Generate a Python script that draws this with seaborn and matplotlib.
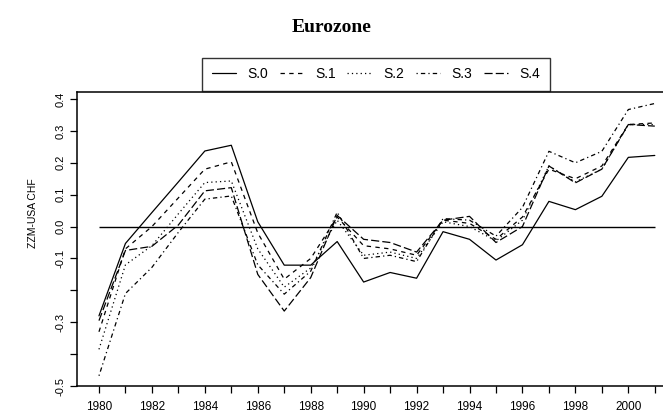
import numpy as np
import pandas as pd
import seaborn as sns
import matplotlib.pyplot as plt

years = list(range(1980, 2002))

s0 = [-0.28, -0.053, 0.044, 0.14, 0.237, 0.255, 0.015, -0.121, -0.121, -0.047, -0.174,
      -0.144, -0.162, -0.016, -0.04, -0.105, -0.057, 0.079, 0.053, 0.095, 0.217, 0.223]
s1 = [-0.33, -0.07, 0.0, 0.09, 0.18, 0.203, -0.02, -0.165, -0.10, 0.03, -0.06,
      -0.07, -0.09, 0.02, 0.01, -0.04, 0.03, 0.18, 0.15, 0.19, 0.32, 0.325]
s2 = [-0.385, -0.12, -0.06, 0.04, 0.138, 0.143, -0.07, -0.19, -0.13, 0.02, -0.09,
      -0.08, -0.10, 0.015, 0.0, -0.045, 0.02, 0.19, 0.14, 0.18, 0.32, 0.32]
s3 = [-0.468, -0.21, -0.128, -0.018, 0.086, 0.096, -0.12, -0.212, -0.14, 0.045, -0.10,
      -0.09, -0.11, 0.025, 0.02, -0.03, 0.06, 0.236, 0.20, 0.236, 0.367, 0.386]
s4 = [-0.295, -0.075, -0.062, 0.005, 0.112, 0.122, -0.15, -0.265, -0.16, 0.035, -0.04,
      -0.05, -0.08, 0.02, 0.032, -0.05, 0.0, 0.19, 0.137, 0.18, 0.32, 0.315]

names = ["S.0", "S.1", "S.2", "S.3", "S.4"]
series = [s0, s1, s2, s3, s4]

ytick_vals = [-0.5, -0.4, -0.3, -0.2, -0.1, 0.0, 0.1, 0.2, 0.3, 0.4]
ytick_text = ["-0.5", "", "-0.3", "", "-0.1", "0.0", "0.1", "0.2", "0.3", "0.4"]
xtick_text = [str(y) if y % 2 == 0 else "" for y in years]

df = pd.DataFrame({
    "year": np.tile(years, len(names)),
    "value": np.concatenate(series),
    "series": np.repeat(names, len(years)),
})

sns.set_theme(style="ticks")
plt.rcParams["font.family"] = ["Liberation Sans", "DejaVu Sans"]
plt.rcParams["text.color"] = "black"
plt.rcParams["axes.labelcolor"] = "black"

# R style line types: solid, dashed, dotted, dotdash, longdash
dash_map = {
    "S.0": "",
    "S.1": (3.5, 3.5),
    "S.2": (1, 2.5),
    "S.3": (1, 2.5, 3.5, 2.5),
    "S.4": (6.5, 2.5),
}

fig = plt.figure(figsize=(6.63, 4.16), dpi=100)
ax = fig.add_axes([77 / 663, 30 / 416, 1 - 77 / 663, 294 / 416])

sns.lineplot(data=df, x="year", y="value", style="series", dashes=dash_map,
             color="black", linewidth=0.9, ax=ax, legend=False)

ax.hlines(0, years[0], years[-1], color="black", linewidth=1.0)

ax.set_xlim(1979.17, 2001.31)
ax.set_ylim(-0.5, 0.422)
ax.set_xticks(years)
ax.set_xticklabels(xtick_text, fontsize=8.5)
ax.set_yticks(ytick_vals)
ax.set_yticklabels(ytick_text, fontsize=8, rotation=90, va="center")
ax.tick_params(axis="x", direction="out", length=5, width=0.9, pad=6, colors="black")
ax.tick_params(axis="y", direction="out", length=5, width=0.9, pad=3, colors="black")
ax.set_xlabel("")
ax.set_ylabel("")
ax.spines["right"].set_visible(False)
for side in ["left", "bottom", "top"]:
    ax.spines[side].set_color("black")
    ax.spines[side].set_linewidth(1.1)

handles = []
for n in names:
    h = plt.Line2D([], [], color="black", linewidth=0.9)
    if dash_map[n]:
        h.set_dashes(dash_map[n])
    handles.append(h)
leg = fig.legend(handles, names, loc="lower center", bbox_to_anchor=(376 / 663, 1 - 91 / 416),
                 ncol=5, fontsize=10, frameon=True, fancybox=False, edgecolor="black",
                 handlelength=1.75, handletextpad=0.85, columnspacing=0.8, borderpad=0.7,
                 borderaxespad=0)
leg.get_frame().set_linewidth(1.0)
for t in leg.get_texts():
    t.set_color("black")

fig.text(0.5, 1 - 28 / 416, "Eurozone", ha="center", va="center", color="black",
         family=["Liberation Serif", "DejaVu Serif"], fontweight="bold", fontsize=14)
fig.text(33 / 663, 1 - 213 / 416, "ZZM-USA CHF", rotation=90, ha="center", va="center",
         fontsize=7.5, color="black")

fig.savefig("out.png", dpi=100)
